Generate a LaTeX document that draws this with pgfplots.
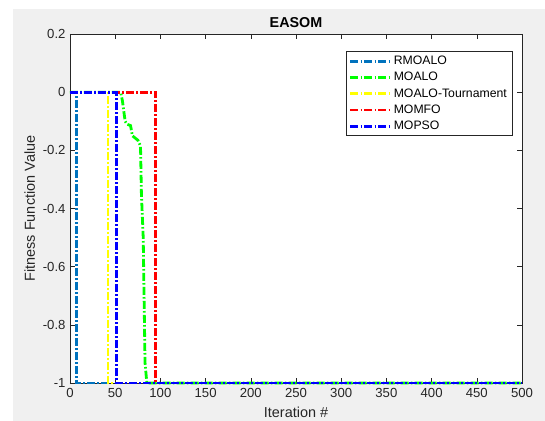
\documentclass[border=0pt]{standalone}
\usepackage{fontspec}
\setmainfont{Liberation Sans}
\usepackage{pgfplots}
\pgfplotsset{compat=1.18}
\definecolor{mbg}{RGB}{240,240,240}
\definecolor{maxis}{RGB}{38,38,38}
\definecolor{cRM}{rgb}{0,0.447,0.741}
\definecolor{cMA}{rgb}{0,1,0}
\definecolor{cMT}{rgb}{1,1,0}
\definecolor{cMF}{rgb}{1,0,0}
\definecolor{cMP}{rgb}{0,0,1}
\tikzset{mdashdot/.style={line width=2.8bp, dash pattern=on 8bp off 2.2bp on 1.6bp off 2.2bp}}
\begin{document}
\begin{tikzpicture}
\useasboundingbox (-70bp,-38bp) rectangle (475bp,383bp);
\clip (-70bp,-38bp) rectangle (475bp,383bp);
\fill[white] (-70bp,-38bp) rectangle (475bp,383bp);
\fill[mbg] (-57bp,-38bp) rectangle (475bp,374bp);
\begin{axis}[
  at={(0,0)}, anchor=south west,
  width=452bp, height=349bp, scale only axis,
  xmin=0, xmax=500, ymin=-1, ymax=0.2,
  axis background/.style={fill=white},
  clip=false,
  xtick={0,50,100,150,200,250,300,350,400,450,500},
  ytick={-1,-0.8,-0.6,-0.4,-0.2,0,0.2},
  yticklabels={-1,-0.8,-0.6,-0.4,-0.2,0,0.2},
  /pgf/number format/assume math mode=true,
  tick align=inside, tick pos=both,
  major tick length=5bp,
  tick style={maxis, line width=0.5bp},
  axis line style={maxis, line width=0.6bp},
  ticklabel style={font=\fontsize{13.2}{15}\selectfont, text=maxis},
  xticklabel style={yshift=-2bp},
  yticklabel style={xshift=-1bp},
  title={EASOM},
  title style={font=\bfseries\fontsize{14.4}{16}\selectfont, at={(axis description cs:0.5,1.017)}, anchor=center},
  xlabel={Iteration \#},
  xlabel style={font=\fontsize{14.5}{16}\selectfont, text=maxis, at={(axis description cs:0.5,-0.085)}, anchor=center},
  ylabel={Fitness Function Value},
  ylabel style={font=\fontsize{14.5}{16}\selectfont, text=maxis, at={(axis description cs:-0.089,0.5)}, anchor=center},
  legend style={at={(axis description cs:0.978,0.95)}, anchor=north east,
    draw=maxis, line width=0.5bp, fill=white,
    font=\fontsize{12.3}{14}\selectfont, row sep=2.2bp,
    inner xsep=3bp, inner ysep=2.5bp},
  legend cell align=left,
  legend image code/.code={\draw[#1] (0bp,0bp) -- (40bp,0bp);},
]
\addplot[mdashdot, cRM] coordinates {(0,0) (7,0) (7,-1) (500,-1)};
\addlegendentry{RMOALO}
\addplot[mdashdot, cMA] coordinates {(0,0) (56,0) (58,-0.03) (61,-0.10) (63,-0.11) (67,-0.115) (69,-0.15) (75,-0.165) (78,-0.185) (79,-0.35) (81,-0.5) (83,-0.93) (85,-1) (500,-1)};
\addlegendentry{MOALO}
\addplot[mdashdot, cMT] coordinates {(0,0) (42,0) (42,-1) (500,-1)};
\addlegendentry{MOALO-Tournament}
\addplot[mdashdot, cMF] coordinates {(0,0) (95,0) (95,-1) (500,-1)};
\addlegendentry{MOMFO}
\addplot[mdashdot, cMP] coordinates {(0,0) (51,0) (51,-1) (500,-1)};
\addlegendentry{MOPSO}
\end{axis}
\end{tikzpicture}
\end{document}
